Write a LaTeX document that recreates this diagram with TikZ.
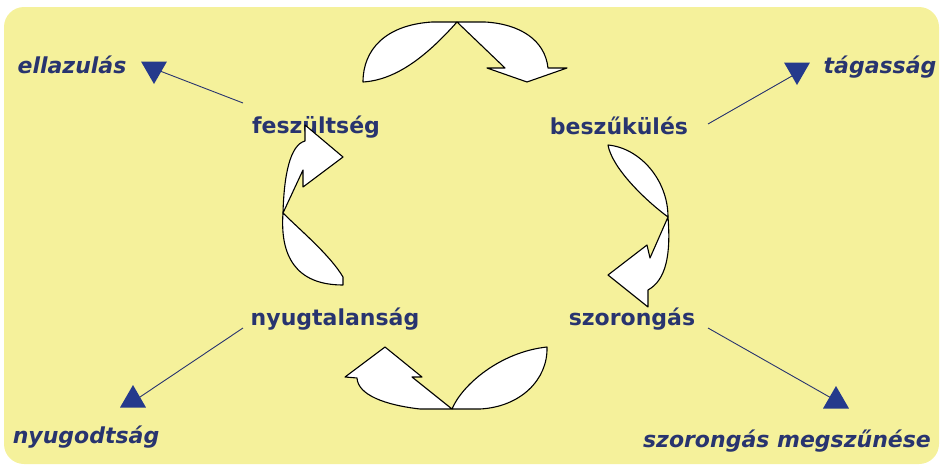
\documentclass[tikz,border=0pt]{standalone}
\usepackage{fontspec}
\setmainfont{DejaVu Sans}
\usetikzlibrary{shapes.geometric}
\definecolor{bgyellow}{HTML}{F5F19B}
\definecolor{navytext}{HTML}{28346F}
\definecolor{navytri}{HTML}{253A8C}
\begin{document}
\begin{tikzpicture}[x=1pt,y=-1pt,
  lbl/.style={font=\bfseries\fontsize{22}{24}\selectfont, text=navytext, inner sep=0pt, anchor=base},
  ilbl/.style={lbl, font=\bfseries\itshape\fontsize{22}{24}\selectfont},
  conn/.style={draw=navytext, line width=0.9pt},
  tridown/.style={regular polygon, regular polygon sides=3, shape border rotate=180, fill=navytri, minimum size=30pt, inner sep=0pt},
  triup/.style={regular polygon, regular polygon sides=3, fill=navytri, minimum size=30pt, inner sep=0pt},
  blk/.style={draw=black, fill=white, line width=1.1pt, line join=round}]
\useasboundingbox (0,0) rectangle (943,466);
\fill[bgyellow, rounded corners=20pt] (4,7) rectangle (939,464);

% labels
\node[lbl] (fesz) at (316,133) {feszültség};
\node[lbl] (besz) at (619,134) {beszűkülés};
\node[lbl] (nyug) at (335,325) {nyugtalanság};
\node[lbl] (szor) at (632,325) {szorongás};
\node[ilbl] (ella) at (72,73) {ellazulás};
\node[ilbl] (taga) at (880,73) {tágasság};
\node[ilbl] (nyod) at (86,443) {nyugodtság};
\node[ilbl] (szme) at (787,447) {szorongás megszűnése};

% connector ends
\coordinate (c1s) at (243,103);
\coordinate (c1e) at (160,71);
\coordinate (c2s) at (708,124);
\coordinate (c2e) at (792,76);
\coordinate (c3s) at (243,328);
\coordinate (c3e) at (137,399);
\coordinate (c4s) at (708,328);
\coordinate (c4e) at (833,399);

\draw[conn] (c1s) -- (c1e);
\draw[conn] (c2s) -- (c2e);
\draw[conn] (c3s) -- (c3e);
\draw[conn] (c4s) -- (c4e);

\node[tridown] (t1) at (154,69) {};
\node[tridown] (t2) at (797,70) {};
\node[triup] (t3) at (133,400) {};
\node[triup] (t4) at (836,401) {};

% top block arrow
\draw[blk] (363,82) .. controls (363,50) and (385,25) .. (432,22) -- (457,22)
  .. controls (425,58) and (395,80) .. (363,82) -- cycle;
\draw[blk] (457,22) -- (485,22) .. controls (520,24) and (545,40) .. (548,68)
  -- (567,68) -- (527,82) -- (487,68) -- (505,68) -- cycle;

% right block arrow
\draw[blk] (608,145) .. controls (640,148) and (668,180) .. (668,217)
  .. controls (645,200) and (612,168) .. (608,145) -- cycle;
\draw[blk] (668,217) .. controls (671,255) and (666,280) .. (648,290)
  -- (648,307) -- (608,275) -- (647,245) -- (650,258) -- cycle;

% bottom block arrow
\draw[blk] (547,347) .. controls (548,380) and (520,407) .. (480,409) -- (452,409)
  .. controls (462,385) and (500,352) .. (547,347) -- cycle;
\draw[blk] (452,409) -- (420,409) .. controls (385,405) and (358,395) .. (357,378)
  -- (345,377) -- (385,347) -- (422,377) -- (412,377) -- cycle;

% left block arrow
\draw[blk] (283,213) .. controls (280,255) and (295,285) .. (343,285) -- (343,277)
  .. controls (330,255) and (300,230) .. (283,213) -- cycle;
\draw[blk] (283,213) .. controls (284,175) and (290,145) .. (305,141) -- (305,125)
  -- (343,157) -- (303,187) -- (303,170) -- cycle;
\end{tikzpicture}
\end{document}
